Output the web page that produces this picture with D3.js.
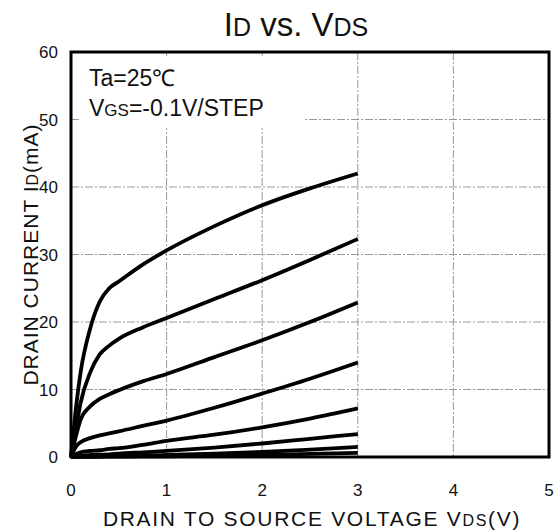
<!DOCTYPE html>
<html lang="en">
<head>
<meta charset="UTF-8">
<title>ID vs. VDS</title>
<script src="https://d3js.org/d3.v7.min.js"></script>
<style>
  body { margin: 0; background: #fff; font-family: "Liberation Sans", Arial, sans-serif; }
  svg { display: block; }
  .grid line { stroke: #999; stroke-width: 1; stroke-dasharray: 8,2,2,2; }
  .tick-label { font-size: 17px; fill: #111; }
  .curve { fill: none; stroke: #000; stroke-width: 3.8; stroke-linejoin: round; }
</style>
</head>
<body>
<div id="chart"></div>
<script>
  // Data
  const vds = [0, 0.05, 0.1, 0.2, 0.3, 0.4, 0.5, 0.75, 1, 1.5, 2, 2.5, 3];
  const id1 = [0, 7, 12.5, 19, 23, 25, 26, 28.5, 30.6, 34.2, 37.3, 39.8, 42];
  const id2 = [0, 4, 8, 12.5, 15.2, 16.5, 17.5, 19.2, 20.6, 23.4, 26.2, 29.2, 32.3];
  const id3 = [0, 3, 5.5, 7.5, 8.6, 9.3, 9.9, 11.2, 12.3, 14.8, 17.3, 20, 22.9];
  const id4 = [0, 1.5, 2.2, 2.8, 3.2, 3.5, 3.8, 4.6, 5.4, 7.3, 9.4, 11.6, 14];
  const id5 = [0, 0.4, 0.7, 0.9, 1.0, 1.2, 1.3, 1.8, 2.4, 3.3, 4.4, 5.7, 7.2];
  const id6 = [0, 0.1, 0.2, 0.3, 0.35, 0.4, 0.5, 0.7, 0.9, 1.4, 2.0, 2.7, 3.4];
  const id7 = [0, 0.03, 0.05, 0.08, 0.1, 0.12, 0.15, 0.2, 0.3, 0.5, 0.75, 1.1, 1.5];
  const id8 = [0, 0.01, 0.02, 0.03, 0.04, 0.05, 0.06, 0.08, 0.1, 0.18, 0.3, 0.45, 0.6];
  const curves = [id1, id2, id3, id4, id5, id6, id7, id8];

  const xTicks = [0, 1, 2, 3, 4, 5];
  const yTicks = [0, 10, 20, 30, 40, 50, 60];

  // Layout
  const W = 559, H = 531;
  const margin = { left: 71, right: 10, top: 52, bottom: 74 };

  const svg = d3.select('#chart').append('svg')
    .attr('width', W)
    .attr('height', H);

  const x = d3.scaleLinear().domain([0, 5]).range([margin.left, W - margin.right]);
  const y = d3.scaleLinear().domain([0, 60]).range([H - margin.bottom, margin.top]);

  // Grid
  const grid = svg.append('g').attr('class', 'grid');
  grid.selectAll('.vg').data(xTicks.slice(1, -1)).enter().append('line')
    .attr('x1', d => x(d)).attr('x2', d => x(d))
    .attr('y1', y(60)).attr('y2', y(0));
  grid.selectAll('.hg').data(yTicks.slice(1, -1)).enter().append('line')
    .attr('x1', x(0)).attr('x2', x(5))
    .attr('y1', d => y(d)).attr('y2', d => y(d));

  // white area behind the conditions text
  svg.append('rect')
    .attr('x', x(0) + 8).attr('y', y(60) + 4)
    .attr('width', 226).attr('height', 72)
    .attr('fill', '#fff');

  // Curves
  const line = d3.line()
    .x((d, i) => x(vds[i]))
    .y(d => y(d))
    .curve(d3.curveMonotoneX);

  svg.selectAll('.curve').data(curves).enter().append('path')
    .attr('class', 'curve')
    .attr('d', d => line(d));

  // Frame
  svg.append('rect')
    .attr('x', x(0)).attr('y', y(60))
    .attr('width', x(5) - x(0)).attr('height', y(0) - y(60))
    .attr('fill', 'none').attr('stroke', '#000').attr('stroke-width', 3);

  // Tick labels
  svg.selectAll('.xt').data(xTicks).enter().append('text')
    .attr('class', 'tick-label')
    .attr('x', d => x(d)).attr('y', 496)
    .attr('text-anchor', 'middle')
    .text(d => d);

  svg.selectAll('.yt').data(yTicks).enter().append('text')
    .attr('class', 'tick-label')
    .attr('x', 58).attr('y', d => y(d) + 6)
    .attr('text-anchor', 'end')
    .text(d => d);

  // Title
  const title = svg.append('text')
    .attr('x', 296).attr('y', 36)
    .attr('text-anchor', 'middle')
    .attr('font-size', 33).attr('fill', '#111');
  title.append('tspan').text('I');
  title.append('tspan').attr('font-size', 25).text('D');
  title.append('tspan').text(' vs. V');
  title.append('tspan').attr('font-size', 25).text('DS');

  // Conditions
  const cond = svg.append('g').attr('fill', '#111').attr('font-size', 23);
  cond.append('text').attr('x', 89).attr('y', 86).text('Ta=25\u2103');
  const vg = cond.append('text').attr('x', 89).attr('y', 116);
  vg.append('tspan').text('V');
  vg.append('tspan').attr('font-size', 17).text('GS');
  vg.append('tspan').text('=-0.1V/STEP');

  // Axis titles
  const xl = svg.append('text')
    .attr('x', 312).attr('y', 526)
    .attr('text-anchor', 'middle')
    .attr('font-size', 21).attr('letter-spacing', 1.7).attr('fill', '#111');
  xl.append('tspan').text('DRAIN TO SOURCE VOLTAGE  V');
  xl.append('tspan').attr('font-size', 16).text('DS');
  xl.append('tspan').text('(V)');

  const yl = svg.append('text')
    .attr('transform', 'translate(38,' + y(30) + ') rotate(-90)')
    .attr('text-anchor', 'middle')
    .attr('font-size', 21).attr('letter-spacing', 1).attr('fill', '#111');
  yl.append('tspan').text('DRAIN CURRENT  I');
  yl.append('tspan').attr('font-size', 16).text('D');
  yl.append('tspan').text('(mA)');
</script>
</body>
</html>
